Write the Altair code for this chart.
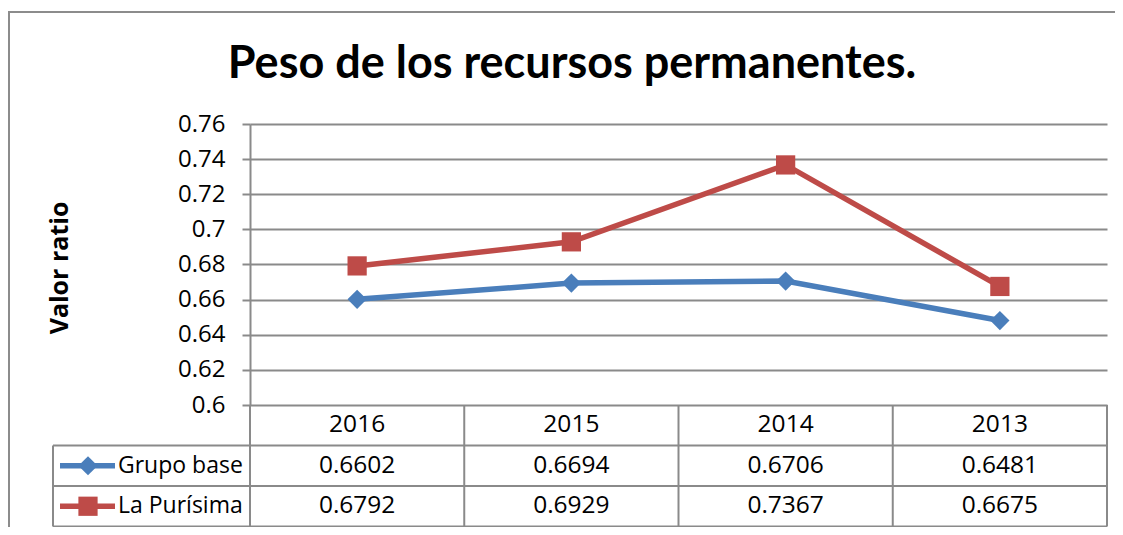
import altair as alt
import pandas as pd

years = ["2016", "2015", "2014", "2013"]
series = ["Grupo base", "La Purísima"]
grupo_base = [0.6602, 0.6694, 0.6706, 0.6481]
la_purisima = [0.6792, 0.6929, 0.7367, 0.6675]
y_ticks = [0.6, 0.62, 0.64, 0.66, 0.68, 0.7, 0.72, 0.74, 0.76]
colors = ["#4a7ebb", "#be4b48"]
shapes = ["diamond", "square"]
title_text = "Peso de los recursos permanentes."
y_title = "Valor ratio"

rows = []
for s, vals in zip(series, [grupo_base, la_purisima]):
    for yr, v in zip(years, vals):
        rows.append({"year": yr, "series": s, "value": v})
df = pd.DataFrame(rows)
years_df = pd.DataFrame({"year": years})
one = pd.DataFrame({"k": [0]})

W = 857
PLOT_H = 281
ROW = 40.5
TABLE_TOP = PLOT_H
TABLE_BOT = PLOT_H + 3 * ROW
LEG_LEFT = -197
GRID = "#8a8a8a"
FONT = "Open Sans"
FS = 24.5

x_enc = alt.X("year:N", sort=years, scale=alt.Scale(type="point", padding=0.5), axis=None)
y_enc = alt.Y(
    "value:Q",
    scale=alt.Scale(domain=[0.6, 0.76], range=[PLOT_H, 0], nice=False, zero=False),
    axis=alt.Axis(values=y_ticks, format="~g", title=None, grid=True, gridColor=GRID,
                  gridWidth=2, domainColor=GRID, domainWidth=2, tickColor=GRID,
                  tickWidth=2, tickSize=8, labelPadding=17, labelFont=FONT,
                  labelFontSize=24, labelColor="#000000"),
)
color_enc = alt.Color("series:N", scale=alt.Scale(domain=series, range=colors), legend=None)
shape_enc = alt.Shape("series:N", scale=alt.Scale(domain=series, range=shapes), legend=None)

def rule(x, x2, y, y2, color=GRID, w=2):
    return alt.Chart(one).mark_rule(color=color, strokeWidth=w).encode(
        x=alt.value(x), x2=alt.value(x2), y=alt.value(y), y2=alt.value(y2))

layers = []
# outer chart border (top and left)
layers.append(rule(-242, 880, -112, -112, "#8c8c8c", 2))
layers.append(rule(-241, -241, -112, 420, "#8c8c8c", 2))

# table lines
step = W / len(years)
for r in range(1, 4):
    layers.append(rule(LEG_LEFT, W, TABLE_TOP + r * ROW, TABLE_TOP + r * ROW))
for i in range(len(years) + 1):
    layers.append(rule(i * step, i * step, TABLE_TOP, TABLE_BOT))
layers.append(rule(LEG_LEFT, LEG_LEFT, TABLE_TOP + ROW, TABLE_BOT))

# data lines and markers
lines = alt.Chart(df).mark_line(strokeWidth=5.5).encode(x=x_enc, y=y_enc, color=color_enc, detail="series:N")
points = alt.Chart(df).mark_point(filled=True, opacity=1, size=370).encode(
    x=x_enc, y=alt.Y("value:Q"), color=color_enc, shape=shape_enc)
layers += [lines, points]

# header years
layers.append(alt.Chart(years_df).mark_text(font=FONT, fontSize=FS, color="#000000", baseline="middle").encode(
    x=x_enc, y=alt.value(TABLE_TOP + ROW / 2), text="year:N"))

# value rows and legend
for i, s in enumerate(series):
    yc = TABLE_TOP + ROW * (i + 1) + ROW / 2
    layers.append(alt.Chart(df).transform_filter(alt.datum.series == s).mark_text(
        font=FONT, fontSize=FS, color="#000000", baseline="middle").encode(
        x=x_enc, y=alt.value(yc), text=alt.Text("value:Q", format=".4f")))
    layers.append(rule(-190, -135, yc, yc, colors[i], 5.5))
    layers.append(alt.Chart(one).mark_point(shape=shapes[i], filled=True, opacity=1, size=370, color=colors[i]).encode(
        x=alt.value(-162), y=alt.value(yc)))
    layers.append(alt.Chart(pd.DataFrame({"t": [s]})).mark_text(
        font=FONT, fontSize=23, color="#000000", align="left", baseline="middle").encode(
        x=alt.value(-132), y=alt.value(yc), text="t:N"))

# title and y title
layers.append(alt.Chart(pd.DataFrame({"t": [title_text]})).mark_text(
    font="Lato", fontSize=45, fontWeight="bold", color="#000000", align="center", baseline="alphabetic").encode(
    x=alt.value(322), y=alt.value(-46), text="t:N"))
layers.append(alt.Chart(pd.DataFrame({"t": [y_title]})).mark_text(
    font=FONT, fontSize=25, fontWeight="bold", color="#000000", align="center", baseline="middle", angle=270).encode(
    x=alt.value(-190), y=alt.value(144), text="t:N"))

chart = alt.layer(*layers).properties(
    width=W, height=403,
    autosize=alt.AutoSizeParams(type="none"),
    padding={"left": 242, "top": 116, "right": 8, "bottom": 0},
    background="white",
).configure_view(stroke=None)

chart.save("out.html", embed_options={"renderer": "svg", "actions": False})
